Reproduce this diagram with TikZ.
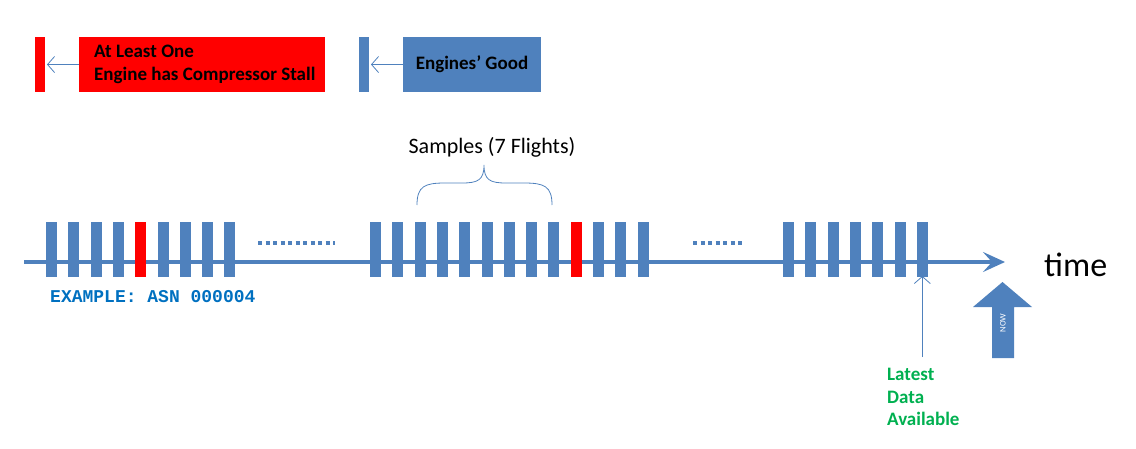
\documentclass[tikz,border=0pt]{standalone}
\usepackage{fontspec}
\setmainfont{Carlito}
\newfontfamily\asnfont{Liberation Mono}
\usetikzlibrary{arrows.meta,positioning}

\definecolor{engblue}{RGB}{79,129,189}
\definecolor{stallred}{RGB}{255,0,0}
\definecolor{latestgreen}{RGB}{0,176,80}
\definecolor{asnblue}{RGB}{0,112,192}

\tikzset{
  flight/.style={fill=engblue, minimum width=11pt, minimum height=55pt,
    inner sep=0pt, outer sep=0pt},
  stall/.style={flight, fill=stallred},
  legendbox/.style={minimum height=55pt, inner sep=0pt, outer sep=0pt},
  legendtext/.style={inner sep=0pt, align=left, text=black,
    font=\fontsize{19}{23}\selectfont\bfseries},
  pointer/.style={draw=engblue, line width=0.8pt,
    -{Straight Barb[length=7pt,width=16pt,line width=0.8pt]}},
  timeline/.style={draw=engblue, line width=4pt,
    -{Stealth[length=22pt,width=20pt,inset=9pt]}},
  gap/.style={draw=engblue, line width=4pt, dash pattern=on 4pt off 3.5pt},
}

\begin{document}
\begin{tikzpicture}[x=1pt, y=-1pt]
  \useasboundingbox (0,0) rectangle (1136,448);

  % legend
  \node[stall, minimum width=10pt] (redbar) at (40,64.5) {};
  \node[legendbox, fill=stallred, minimum width=246pt] (redbox) at (202,64.5) {};
  \node[legendtext, anchor=west] (redtext) at ([xshift=15pt]redbox.west)
    {At Least One\\Engine has Compressor Stall};
  \draw[pointer] (redbox.west) -- ([xshift=2pt]redbar.east);

  \node[flight, minimum width=10pt] (bluebar) at (364,64.5) {};
  \node[legendbox, fill=engblue, minimum width=138pt, legendtext] (bluebox) at (472,64.5)
    {Engines’ Good};
  \draw[pointer] (bluebox.west) -- ([xshift=2pt]bluebar.east);

  % time axis
  \coordinate (start) at (24,262);
  \coordinate (tip) at (1005,262);
  \draw[timeline] (start) -- (tip);
  \node[right=39pt of tip, yshift=-3pt, inner sep=0pt,
    font=\fontsize{34}{36}\selectfont] (timelabel) {time};

  % flights
  \foreach \i in {1,...,9}
    \node[flight] (a\i) at ({51.5+22.3*(\i-1)},249.5) {};
  \node[stall] at (a5) {};
  \foreach \i in {1,...,13}
    \node[flight] (b\i) at ({375.5+22.3*(\i-1)},249.5) {};
  \node[stall] at (b10) {};
  \foreach \i in {1,...,7}
    \node[flight] (c\i) at ({788.5+22.3*(\i-1)},249.5) {};

  % gaps
  \coordinate (gapA1) at (258,243);
  \coordinate (gapA2) at (335,243);
  \coordinate (gapB1) at (693,243);
  \coordinate (gapB2) at (745,243);
  \draw[gap] (gapA1) -- (gapA2);
  \draw[gap] (gapB1) -- (gapB2);

  \node[anchor=west, inner sep=0pt, text=asnblue,
    font=\asnfont\fontsize{18}{20}\selectfont\bfseries] (asn) at (50,297)
    {EXAMPLE: ASN 000004};

  % samples brace
  \coordinate (braceL) at (417,205);
  \coordinate (braceR) at (552,205);
  \coordinate (bracetip) at (484,165);
  \draw[engblue, line width=0.8pt]
    (braceL) .. controls (417,186) and (425,183) .. (445,183)
    -- (462,183) .. controls (478,183) and (484,180) .. (bracetip)
    .. controls (484,180) and (490,183) .. (506,183)
    -- (524,183) .. controls (544,183) and (552,186) .. (braceR);
  \node[font=\fontsize{22}{24}\selectfont, inner sep=0pt] (samples) at (492,147)
    {Samples (7 Flights)};

  % latest data
  \coordinate (latestfoot) at (c7.south |- 0,357);
  \draw[pointer] (latestfoot) -- ([yshift=1pt]c7.south);
  \node[anchor=north west, inner sep=0pt, align=left, text=latestgreen,
    font=\fontsize{19}{22.5}\selectfont\bfseries] (latest) at (887,368)
    {Latest\\Data\\Available};

  % now
  \fill[engblue] (992,358) -- (992,307) -- (973,307) -- (1002.5,282)
    -- (1032,307) -- (1014,307) -- (1014,358) -- cycle;
  \node[rotate=90, text=white, inner sep=0pt,
    font=\fontsize{8.5}{9}\selectfont] (now) at (1003,323) {NOW};
\end{tikzpicture}
\end{document}
